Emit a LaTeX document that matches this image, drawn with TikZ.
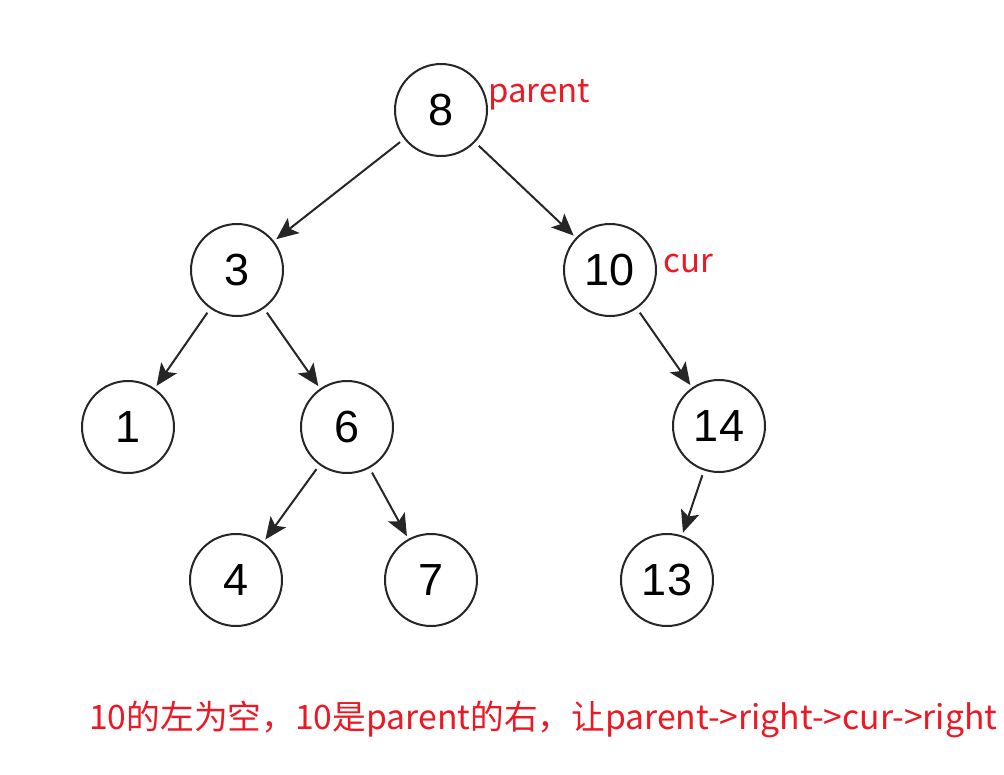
\documentclass[tikz,border=0pt]{standalone}
\usepackage{fontspec}
\setmainfont{Liberation Sans}
\newfontfamily\cjkfont{Noto Sans CJK SC}
\usetikzlibrary{arrows.meta}
\definecolor{labred}{RGB}{236,24,36}
\begin{document}
\begin{tikzpicture}[x=1pt,y=-1pt,
  treenode/.style={circle,draw=black!85,line width=2pt,minimum size=92pt,inner sep=0pt,
    font=\fontsize{45}{45}\selectfont},
  edge/.style={line width=2pt,draw=black!85,-{Stealth[length=22pt,width=19pt,inset=5pt]},
    shorten <=5pt,shorten >=3pt},
  redlab/.style={text=labred,inner sep=0pt,anchor=base west,font=\cjkfont\fontsize{33}{33}\selectfont}]
\useasboundingbox (0,0) rectangle (1004,774);
\node[treenode] (n8)  at (441,110) {8};
\node[treenode] (n3)  at (237,270) {3};
\node[treenode] (n10) at (610,270) {10};
\node[treenode] (n1)  at (128,427) {1};
\node[treenode] (n6)  at (347,427) {6};
\node[treenode] (n14) at (719,426) {14};
\node[treenode] (n4)  at (236,580) {4};
\node[treenode] (n7)  at (431,580) {7};
\node[treenode] (n13) at (667,580) {13};
\draw[edge] (n8) -- (n3);
\draw[edge] (n8) -- (n10);
\draw[edge] (n3) -- (n1);
\draw[edge] (n3) -- (n6);
\draw[edge] (n6) -- (n4);
\draw[edge] (n6) -- (n7);
\draw[edge] (n10) -- (n14);
\draw[edge] (n14) -- (n13);
\node[redlab] (lp) at (488,102) {parent};
\node[redlab] (lc) at (663,272) {cur};
\node[redlab] (note) at (89,729) {\resizebox{908pt}{!}{10的左为空，10是parent的右，让parent->right->cur->right}};
\end{tikzpicture}
\end{document}
